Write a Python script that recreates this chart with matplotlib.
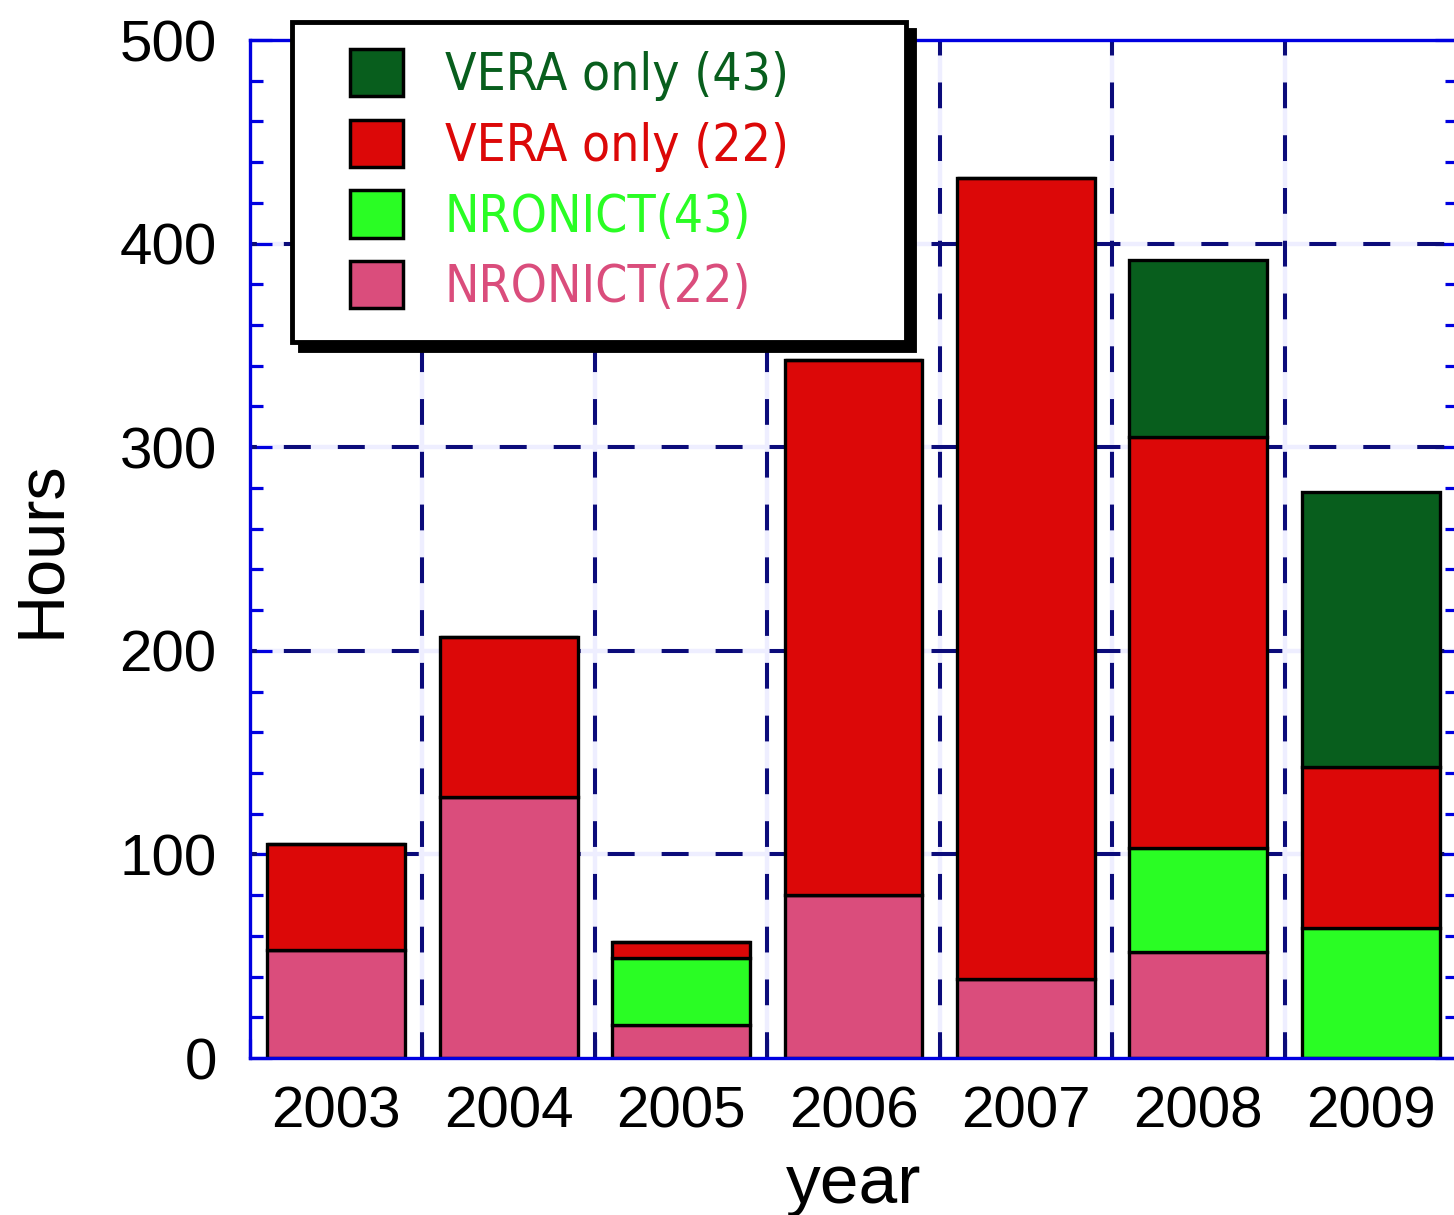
import numpy as np
import matplotlib.pyplot as plt
from matplotlib import font_manager as fm
from matplotlib.patches import Patch, Rectangle
from matplotlib.ticker import MultipleLocator, FixedLocator

# horas por ano, empilhadas de baixo para cima
anos = [2003, 2004, 2005, 2006, 2007, 2008, 2009]
nronict_22 = [53, 128, 16, 80, 39, 52, 0]
nronict_43 = [0, 0, 33, 0, 0, 51, 64]
vera_22 = [52, 79, 8, 263, 393, 202, 79]
vera_43 = [0, 0, 0, 0, 0, 87, 135]

series = [
    ("NRONICT(22)", nronict_22, "#DA4D7C"),
    ("NRONICT(43)", nronict_43, "#2AFD24"),
    ("VERA only (22)", vera_22, "#DC0808"),
    ("VERA only (43)", vera_43, "#085E1D"),
]

plt.rcParams['font.family'] = ['Liberation Sans', 'DejaVu Sans']


def fonte_estreita(tam):
    # procura uma fonte condensada instalada
    for fam, st in [('Liberation Sans Narrow', 'normal'), ('DejaVu Sans', 'condensed'),
                    ('Roboto Condensed', 'normal'), ('Roboto', 'condensed'),
                    ('Open Sans', 'condensed'), ('Noto Sans', 'condensed')]:
        fp = fm.FontProperties(family=fam, stretch=st, size=tam)
        try:
            f = fm.findfont(fp, fallback_to_default=False)
        except ValueError:
            continue
        if 'Narrow' in f or 'Condensed' in f or 'condensed' in f.lower():
            return fm.FontProperties(fname=f, size=tam)
    return fm.FontProperties(family='DejaVu Sans', size=tam)


fig = plt.figure(figsize=(14.54, 12.15), dpi=100)
ax = fig.add_axes([250 / 1454, 157 / 1215, 1207 / 1454, 1018 / 1215])

x = np.array(anos)
base = np.zeros(len(anos))
for nome, vals, cor in series:
    vals = np.array(vals, dtype=float)
    ax.bar(x, vals, width=0.8, bottom=base, color=cor, edgecolor='black',
           linewidth=2.4, zorder=3)
    base = base + vals

ax.set_xlim(anos[0] - 0.5, anos[-1] + 0.5)
ax.set_ylim(0, 500)

# grelha: linha lavanda por baixo + tracejado azul escuro
hx = [100, 200, 300, 400]
vx = [a + 0.5 for a in anos[:-1]]
for y in hx:
    ax.axhline(y, color='#EEEEFF', lw=3.2, zorder=1)
    ax.axhline(y, color='#0B0B7A', lw=2.9, ls=(5, (6.7, 6.7)), zorder=2)
for v in vx:
    ax.axvline(v, color='#EEEEFF', lw=3.2, zorder=1)
    ax.axvline(v, color='#0B0B7A', lw=2.9, ls=(0, (6.4, 6.7)), zorder=2)

# ticks do eixo x: divisões nos limites, menores a cada 0.2, rótulos no centro
ax.xaxis.set_major_locator(FixedLocator(np.arange(anos[0] - 0.5, anos[-1] + 0.6, 1.0)))
ax.xaxis.set_minor_locator(FixedLocator(np.arange(anos[0] - 0.3, anos[-1] + 0.4, 0.2)))
ax.tick_params(axis='x', which='both', labelbottom=False)
sec = ax.secondary_xaxis('bottom')
sec.set_xticks(anos)
sec.set_xticklabels([str(a) for a in anos])
sec.tick_params(axis='x', length=0, pad=20, labelsize=42)
sec.spines['bottom'].set_visible(False)

ax.yaxis.set_major_locator(MultipleLocator(100))
ax.yaxis.set_minor_locator(MultipleLocator(20))

azul = '#0000E0'
for s in ax.spines.values():
    s.set_color(azul)
    s.set_linewidth(2.4)
    s.set_zorder(4)

ax.tick_params(axis='x', which='major', direction='in', length=14, width=2.3, color=azul)
ax.tick_params(axis='x', which='minor', direction='in', length=7.5, width=2.3, color=azul)
ax.tick_params(axis='y', which='major', direction='in', length=16, width=2.3,
               color=azul, left=True, right=True, pad=24, labelsize=42)
ax.tick_params(axis='y', which='minor', direction='in', length=9, width=2.3,
               color=azul, left=True, right=True)

ax.set_ylabel('Hours', fontsize=48)
ax.yaxis.set_label_coords(-0.147, 0.5)
ax.set_xlabel('year', fontsize=50)
ax.xaxis.set_label_coords(0.5, -0.093)

# caixa da legenda com sombra
fw, fh = 1454, 1215
sombra = Rectangle(((292 + 8) / fw, 1 - (342 + 8) / fh), 614 / fw, 320 / fh,
                   transform=fig.transFigure, facecolor='black', edgecolor='black',
                   lw=3.5, zorder=5)
caixa = Rectangle((292 / fw, 1 - 342 / fh), 614 / fw, 320 / fh,
                  transform=fig.transFigure, facecolor='white', edgecolor='black',
                  lw=3.5, zorder=6)
fig.patches.extend([sombra, caixa])

handles = [Patch(facecolor=c, edgecolor='black', linewidth=2.5) for _, _, c in series[::-1]]
labels = [n for n, _, _ in series[::-1]]
leg = fig.legend(handles, labels, loc='upper left',
                 bbox_to_anchor=(350 / fw, 1 - 49 / fh),
                 handlelength=1.04, handleheight=1.04,
                 handletextpad=0.8, labelspacing=0.36, borderpad=0,
                 borderaxespad=0, frameon=False, prop=fonte_estreita(37))
leg.set_zorder(7)
for t, (_, _, c) in zip(leg.get_texts(), series[::-1]):
    t.set_color(c)

fig.savefig('out.png', dpi=100)
